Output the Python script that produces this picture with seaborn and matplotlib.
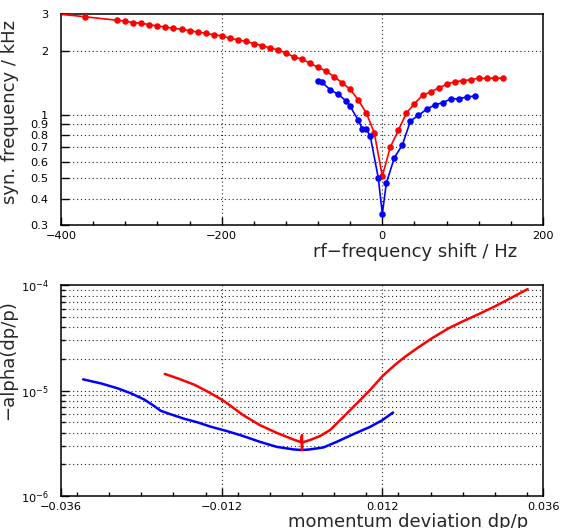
import matplotlib
matplotlib.use('Agg')
import matplotlib.pyplot as plt
import matplotlib.ticker as mticker
import numpy as np
import pandas as pd
import seaborn as sns

# top panel: synchrotron frequency vs rf shift
red_hz = [-410, -370, -330, -320, -310, -300, -290, -280, -270, -260, -250, -240, -230, -220, -210,
          -200, -190, -180, -170, -160, -150, -140, -130, -120, -110, -100, -90, -80, -70, -60,
          -50, -40, -30, -20, -10, 0, 10, 20, 30, 40, 50, 60, 70, 80, 90, 100, 110, 120, 130, 140, 150]
red_khz = [3.03, 2.92, 2.81, 2.78, 2.74, 2.72, 2.68, 2.64, 2.61, 2.57, 2.55, 2.51, 2.47, 2.44, 2.40,
           2.37, 2.31, 2.27, 2.23, 2.18, 2.13, 2.08, 2.03, 1.97, 1.88, 1.84, 1.756, 1.681, 1.614, 1.517,
           1.421, 1.321, 1.176, 1.023, 0.820, 0.512, 0.704, 0.845, 1.020, 1.129, 1.238, 1.283, 1.341,
           1.396, 1.436, 1.452, 1.468, 1.491, 1.491, 1.496, 1.491]

blue_hz = [-80, -75, -65, -55, -45, -40, -30, -25, -20, -15, -5, 0, 5, 15, 25, 35, 45, 55, 65, 75,
           85, 95, 105, 115]
blue_khz = [1.447, 1.427, 1.316, 1.252, 1.163, 1.098, 0.942, 0.859, 0.859, 0.791, 0.501, 0.339,
            0.475, 0.626, 0.721, 0.935, 0.995, 1.062, 1.113, 1.142, 1.189, 1.193, 1.215, 1.228]

# bottom panel: -alpha vs momentum deviation
blue_dp = [-0.0327, -0.0300, -0.0275, -0.0255, -0.0236, -0.0223, -0.0211, -0.0196, -0.0176, -0.0156,
           -0.0136, -0.0112, -0.0088, -0.0063, -0.0038, -0.0013, 0.0, 0.0012, 0.0032, 0.0052,
           0.0077, 0.0102, 0.0120, 0.0136]
blue_alpha = [12.8e-6, 11.7e-6, 10.5e-6, 9.4e-6, 8.26e-6, 7.3e-6, 6.44e-6, 5.96e-6, 5.41e-6, 5.0e-6,
              4.54e-6, 4.13e-6, 3.71e-6, 3.27e-6, 2.93e-6, 2.77e-6, 2.73e-6, 2.77e-6, 2.89e-6, 3.27e-6,
              3.87e-6, 4.54e-6, 5.25e-6, 6.2e-6]

red_dp = [-0.0205, -0.0186, -0.0161, -0.0141, -0.0121, -0.0112, -0.0088, -0.0063, -0.0038, -0.0013,
          -0.0002, 0.0, 0.0, 0.0, 0.0002, 0.0012, 0.0027, 0.0042, 0.0062, 0.0082, 0.0102, 0.0121,
          0.0139, 0.0154, 0.0174, 0.0194, 0.0219, 0.0239, 0.0264, 0.0289, 0.0314, 0.0337]
red_alpha = [14.4e-6, 13.1e-6, 11.4e-6, 9.8e-6, 8.3e-6, 7.6e-6, 5.86e-6, 4.71e-6, 3.98e-6, 3.44e-6,
             3.25e-6, 3.78e-6, 2.74e-6, 3.2e-6, 3.25e-6, 3.4e-6, 3.71e-6, 4.23e-6, 5.65e-6, 7.57e-6,
             10.2e-6, 13.9e-6, 17.6e-6, 21.0e-6, 25.8e-6, 31.4e-6, 39.1e-6, 45.1e-6, 53.3e-6, 63.5e-6,
             76.9e-6, 92.0e-6]

top_yticks = [0.3, 0.4, 0.5, 0.6, 0.7, 0.8, 0.9, 1, 2, 3]
top_ylabels = ['0.3', '0.4', '0.5', '0.6', '0.7', '0.8', '0.9', '1', '2', '3']

sns.set_theme(style='white')
plt.rcParams['font.family'] = ['DejaVu Sans']
plt.rcParams['axes.unicode_minus'] = True

fig = plt.figure(figsize=(5.62, 5.28), dpi=100)
ax1 = fig.add_axes([61 / 562, 1 - 225 / 528, 482 / 562, 210.7 / 528])
ax2 = fig.add_axes([61 / 562, 1 - 496 / 528, 482 / 562, 210.7 / 528])

grid_kw = dict(color='0.15', lw=0.8, ls=(0, (1, 2.5)))

# ---- top
ax1.set_yscale('log')
df_r = pd.DataFrame({'x': red_hz, 'y': red_khz})
df_b = pd.DataFrame({'x': blue_hz, 'y': blue_khz})
sns.lineplot(data=df_r, x='x', y='y', ax=ax1, color='red', marker='o', markersize=4.7,
             markeredgewidth=0, lw=1.2, estimator=None, sort=False, zorder=3)
sns.lineplot(data=df_b, x='x', y='y', ax=ax1, color='blue', marker='o', markersize=4.7,
             markeredgewidth=0, lw=1.2, estimator=None, sort=False, zorder=3)
ax1.set_xlim(-400, 200)
ax1.set_ylim(0.3, 3)
ax1.xaxis.set_major_locator(mticker.MultipleLocator(200))
ax1.xaxis.set_minor_locator(mticker.MultipleLocator(40))
ax1.yaxis.set_major_locator(mticker.FixedLocator(top_yticks))
ax1.yaxis.set_major_formatter(mticker.FixedFormatter(top_ylabels))
ax1.yaxis.set_minor_locator(mticker.NullLocator())
for v in [-200, 0]:
    ax1.axvline(v, zorder=1, **grid_kw)
for v in [0.4, 0.5, 0.6, 0.7, 0.8, 0.9, 1, 2]:
    ax1.axhline(v, zorder=1, **grid_kw)
ax1.set_xlabel('rf\u2212frequency shift / Hz', fontsize=13, loc='right')
ax1.set_ylabel('syn. frequency / kHz', fontsize=13, loc='top')
ax1.xaxis.set_label_coords(0.946, -0.084)
ax1.yaxis.set_label_coords(-0.088, 0.975)

# ---- bottom
ax2.set_yscale('log')
df_r2 = pd.DataFrame({'x': red_dp, 'y': red_alpha})
df_b2 = pd.DataFrame({'x': blue_dp, 'y': blue_alpha})
sns.lineplot(data=df_b2, x='x', y='y', ax=ax2, color='blue', lw=1.8, estimator=None, sort=False, zorder=3)
sns.lineplot(data=df_r2, x='x', y='y', ax=ax2, color='red', lw=1.8, estimator=None, sort=False, zorder=3)
ax2.set_xlim(-0.036, 0.036)
ax2.set_ylim(1e-6, 1e-4)
ax2.xaxis.set_major_locator(mticker.FixedLocator([-0.036, -0.012, 0.012, 0.036]))
ax2.xaxis.set_major_formatter(mticker.FixedFormatter(['\u22120.036', '\u22120.012', '0.012', '0.036']))
ax2.xaxis.set_minor_locator(mticker.MultipleLocator(0.0048))
ax2.yaxis.set_major_locator(mticker.LogLocator(base=10))
ax2.yaxis.set_minor_locator(mticker.LogLocator(base=10, subs=np.arange(2, 10)))
ax2.yaxis.set_minor_formatter(mticker.NullFormatter())
for v in [-0.012, 0.012]:
    ax2.axvline(v, zorder=1, **grid_kw)
for dec in [1e-6, 1e-5]:
    for m in range(2, 10):
        ax2.axhline(dec * m, zorder=1, **grid_kw)
ax2.axhline(1e-5, zorder=1, **grid_kw)
ax2.set_xlabel('momentum deviation dp/p', fontsize=13, loc='right')
ax2.set_ylabel('\u2212alpha(dp/p)', fontsize=13, loc='top')
ax2.xaxis.set_label_coords(0.969, -0.08)
ax2.yaxis.set_label_coords(-0.09, 0.93)

for ax in (ax1, ax2):
    for s in ax.spines.values():
        s.set_visible(True)
        s.set_color('black')
        s.set_linewidth(1.1)
    ax.tick_params(which='both', direction='in', colors='black', labelsize=8.2,
                   bottom=True, left=True, top=False, right=False)
    ax.tick_params(axis='x', which='major', length=6, width=1, pad=4)
    ax.tick_params(axis='x', which='minor', length=3, width=1)
    ax.tick_params(axis='y', which='major', length=6, width=1, pad=9)
    ax.tick_params(axis='y', which='minor', length=3, width=1)
    ax.grid(False)

fig.savefig('out.png', dpi=100)
